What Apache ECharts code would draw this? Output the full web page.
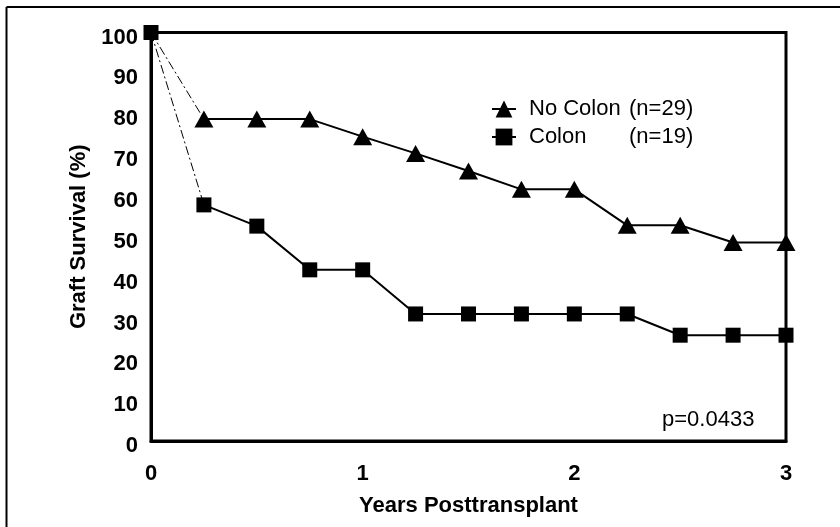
<!DOCTYPE html>
<html>
<head>
<meta charset="utf-8">
<script src="https://cdn.jsdelivr.net/npm/echarts@6/dist/echarts.min.js"></script>
<style>
html,body{margin:0;padding:0;background:#fff;}
#chart{width:840px;height:527px;}
</style>
</head>
<body>
<div id="chart"></div>
<script>
// ---- data ----
const years = [0.25, 0.5, 0.75, 1.0, 1.25, 1.5, 1.75, 2.0, 2.25, 2.5, 2.75, 3.0];
const noColon = [78.8, 78.8, 78.8, 74.5, 70.4, 66.1, 61.6, 61.6, 52.8, 52.8, 48.6, 48.6];
const colon = [57.8, 52.6, 41.9, 41.9, 31.1, 31.1, 31.1, 31.1, 31.1, 25.9, 25.9, 25.9];
const startYear = 0;
const startValue = 100;
const seriesNames = ['No Colon', 'Colon'];
const seriesN = ['(n=29)', '(n=19)'];
const pValueText = 'p=0.0433';
const xTitle = 'Years Posttransplant';
const yTitle = 'Graft Survival (%)';

const FONT = '"Liberation Sans", Arial, Helvetica, sans-serif';
const chart = echarts.init(document.getElementById('chart'), null, {renderer: 'canvas'});

const pairs = (xs, ys) => xs.map((x, i) => [x, ys[i]]);

const option = {
  backgroundColor: '#fff',
  animation: false,
  grid: {
    left: 151, top: 32.5, right: 54, bottom: 86,
    show: true, borderColor: '#000', borderWidth: 3, backgroundColor: 'transparent'
  },
  xAxis: {
    type: 'value', min: 0, max: 3, interval: 1,
    name: xTitle, nameLocation: 'middle', nameGap: 54,
    nameTextStyle: {fontFamily: FONT, fontSize: 22, fontWeight: 'bold', color: '#000'},
    axisLine: {show: true, lineStyle: {color: '#000', width: 3}},
    axisTick: {show: false},
    splitLine: {show: false},
    axisLabel: {fontFamily: FONT, fontSize: 22, fontWeight: 'bold', color: '#000', margin: 22}
  },
  yAxis: {
    type: 'value', min: 0, max: 100, interval: 10,
    name: yTitle, nameLocation: 'middle', nameGap: 54,
    nameTextStyle: {fontFamily: FONT, fontSize: 22, fontWeight: 'bold', color: '#000'},
    axisLine: {show: true, lineStyle: {color: '#000', width: 3}},
    axisTick: {show: false},
    splitLine: {show: false},
    axisLabel: {fontFamily: FONT, fontSize: 22, fontWeight: 'bold', color: '#000', margin: 13,
      verticalAlign: 'top', lineHeight: 10}
  },
  legend: {
    data: seriesNames,
    orient: 'vertical',
    left: 486, top: 92,
    itemWidth: 24, itemHeight: 21,
    itemGap: 4,
    formatter: function (name) {
      const i = seriesNames.indexOf(name);
      return '{s|}{a|' + name + '}{b|' + seriesN[i] + '}';
    },
    textStyle: {
      fontFamily: FONT, fontSize: 22, color: '#000', lineHeight: 24,
      rich: {
        s: {width: 8},
        a: {width: 100, fontFamily: FONT, fontSize: 22, color: '#000'},
        b: {fontFamily: FONT, fontSize: 22, color: '#000'}
      }
    }
  },
  graphic: [
    {type: 'line', shape: {x1: 6.5, y1: 7, x2: 6.5, y2: 527}, style: {stroke: '#000', lineWidth: 2}},
    {type: 'line', shape: {x1: 6.5, y1: 7, x2: 840, y2: 7}, style: {stroke: '#000', lineWidth: 2}},
    {type: 'text', left: 662, top: 409, style: {text: pValueText, font: '22px ' + FONT, fill: '#000'}}
  ],
  series: [
    {
      name: 'noColonStart', type: 'line',
      data: [[startYear, startValue], [years[0], noColon[0]]],
      symbol: 'none',
      lineStyle: {color: '#000', width: 1, type: [9, 3, 2, 3]},
      z: 2
    },
    {
      name: 'colonStart', type: 'line',
      data: [{value: [startYear, startValue], symbol: 'rect', symbolSize: 15}, {value: [years[0], colon[0]], symbol: 'none'}],
      showSymbol: true,
      itemStyle: {color: '#000'},
      lineStyle: {color: '#000', width: 1, type: [9, 3, 2, 3]},
      z: 5
    },
    {
      name: seriesNames[0], type: 'line',
      data: pairs(years, noColon),
      symbol: 'triangle', symbolSize: [19, 17],
      itemStyle: {color: '#000'},
      lineStyle: {color: '#000', width: 2},
      z: 3
    },
    {
      name: seriesNames[1], type: 'line',
      data: pairs(years, colon),
      symbol: 'rect', symbolSize: 15,
      itemStyle: {color: '#000'},
      lineStyle: {color: '#000', width: 2},
      z: 3
    }
  ]
};
chart.setOption(option);
</script>
</body>
</html>
